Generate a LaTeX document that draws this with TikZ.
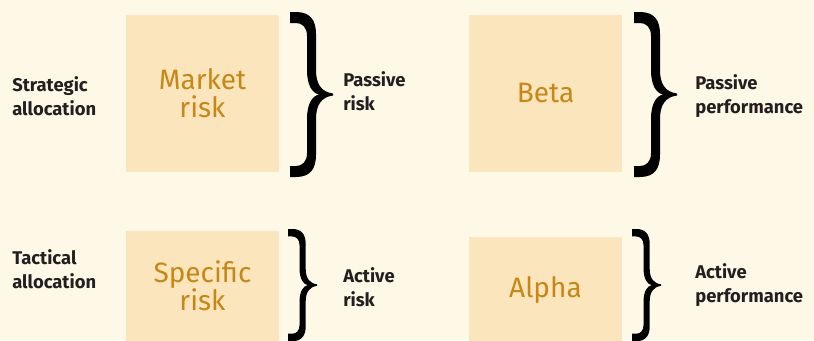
\documentclass[tikz,border=0pt]{standalone}
\usepackage{fontspec}
\setmainfont{Fira Sans}
\definecolor{bgcream}{RGB}{254,248,230}
\definecolor{boxfill}{RGB}{251,229,188}
\definecolor{boxtext}{RGB}{200,135,20}
\definecolor{labeltext}{RGB}{35,31,32}
\tikzset{
  curlybrace/.pic={
    \fill[black] (0,0) -- (6,0) .. controls (20,0) and (26,8) .. (26,22) -- (26,58)
      .. controls (26,73) and (32,80) .. (43,81.5) -- (43,83.5)
      .. controls (32,85) and (26,92) .. (26,107) -- (26,143)
      .. controls (26,157) and (20,165) .. (6,165) -- (0,165) -- (0,154) -- (6,154)
      .. controls (12,154) and (17,150) .. (17,141) -- (17,107)
      .. controls (17,92) and (22,84) .. (29,82.5)
      .. controls (22,81) and (17,73) .. (17,58) -- (17,24)
      .. controls (17,15) and (12,11) .. (6,11) -- (0,11) -- cycle;
  }
}
\begin{document}
\begin{tikzpicture}[x=0.75pt,y=-0.75pt,
  riskbox/.style={fill=boxfill,minimum width=114.75pt,inner sep=0pt,align=center,
    text=boxtext,font=\fontsize{21}{21}\selectfont},
  sidelabel/.style={anchor=west,inner sep=0pt,align=left,
    text=labeltext,font=\bfseries\fontsize{13.8}{18}\selectfont}]
\fill[bgcream] (0,0) rectangle (814,340);
\useasboundingbox (0,0) rectangle (814,340);
\clip (0,0) rectangle (814,340);
% boxes
\node[riskbox,minimum height=117.75pt] (market) at (202.5,93.5) {Market\\risk};
\node[riskbox,minimum height=82.5pt] (specific) at (202.5,286) {Specific\\risk};
\node[riskbox,minimum height=117.75pt] (beta) at (545.5,93.5) {Beta};
\node[riskbox,minimum height=79.5pt] (alpha) at (545.5,290) {Alpha};
% labels
\node[sidelabel] (strategic) at (12,96) {Strategic\\allocation};
\node[sidelabel] (tactical) at (12,269) {Tactical\\allocation};
\node[sidelabel] (passiverisk) at (343,91) {Passive\\risk};
\node[sidelabel] (activerisk) at (343,287) {Active\\risk};
\node[sidelabel] (passiveperf) at (695,96) {Passive\\performance};
\node[sidelabel] (activeperf) at (695,285) {Active\\performance};
% braces
\pic at (290,12) {curlybrace};
\pic[scale=0.68] at (288,229) {curlybrace};
\pic at (634,12) {curlybrace};
\pic[scale=0.68] at (632,229) {curlybrace};
\end{tikzpicture}
\end{document}
